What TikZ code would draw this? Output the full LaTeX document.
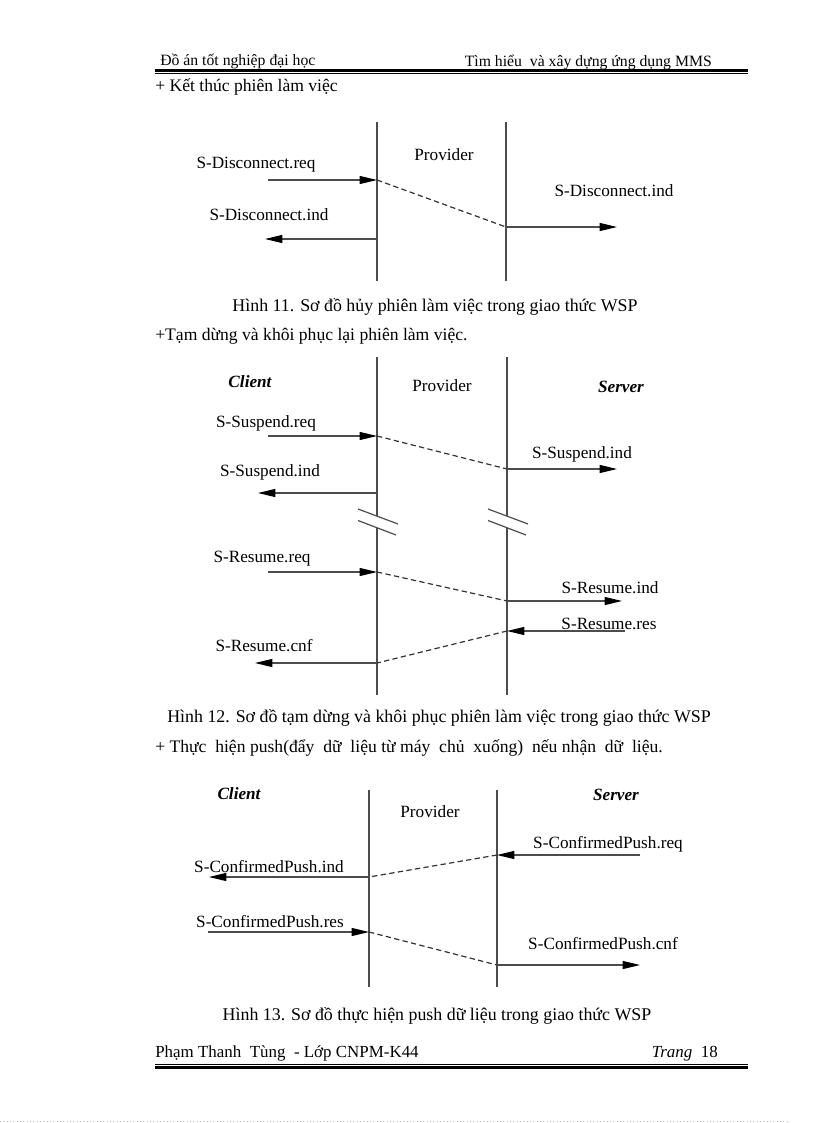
\documentclass[tikz,border=0pt]{standalone}
\usepackage{fontspec}
\setmainfont{Liberation Serif}
\usetikzlibrary{arrows.meta}

\begin{document}
\begin{tikzpicture}[x=0.75pt, y=-0.75pt, font=\fontsize{12.6}{15}\selectfont]
\tikzstyle{life}=[line width=0.9pt, black!70]
\tikzstyle{msg}=[line width=0.9pt, black!70, -{Triangle[length=13pt,width=6pt,color=black]}]
\tikzstyle{relay}=[line width=0.9pt, black!80, dash pattern=on 4pt off 2.5pt]
\tikzstyle{lbl}=[inner sep=0pt, yshift=-1.2pt, font=\fontsize{12.9}{15}\selectfont]
\tikzstyle{party}=[inner sep=0pt, yshift=-1.2pt, font=\fontsize{12.9}{15}\selectfont\bfseries\itshape]
\tikzstyle{para}=[inner sep=0pt, yshift=-1.2pt, anchor=west, font=\fontsize{13.2}{15}\selectfont]
\tikzstyle{figcap}=[inner sep=0pt, yshift=-1.2pt, font=\fontsize{13.4}{15}\selectfont]
\tikzstyle{head}=[inner sep=0pt, yshift=-1.5pt, font=\fontsize{11.8}{15}\selectfont]
\tikzstyle{foot}=[inner sep=0pt, yshift=-1.2pt, font=\fontsize{12.7}{15}\selectfont]
\useasboundingbox (0,0) rectangle (816,1123);

% page header
\node[head, anchor=west] (headl) at (160,60) {Đồ án tốt nghiệp đại học};
\node[head, anchor=east] (headr) at (712,60) {Tìm hiểu \ và xây dựng ứng dụng MMS};
\coordinate (hl0) at (155,70.5); \coordinate (hl1) at (748,70.5);
\coordinate (hm0) at (155,73.5); \coordinate (hm1) at (748,73.5);
\draw[line width=1.7pt] (hl0) -- (hl1);
\draw[line width=0.5pt] (hm0) -- (hm1);

%% Hinh 11
\node[para] (sec1) at (155,85) {+ Kết thúc phiên làm việc};
\coordinate (p1t) at (377,122); \coordinate (p1b) at (377,281);
\coordinate (q1t) at (506,122); \coordinate (q1b) at (506,281);
\draw[life] (p1t) -- (p1b);
\draw[life] (q1t) -- (q1b);
\node[lbl] (prov1) at (444,153) {Provider};
\node[lbl] (discreq) at (256,163) {S-Disconnect.req};
\node[lbl] (discindc) at (269,213) {S-Disconnect.ind};
\node[lbl] (discinds) at (614,189) {S-Disconnect.ind};
\coordinate (a1) at (268,180); \coordinate (a2) at (377,180);
\coordinate (a3) at (506,227); \coordinate (a4) at (617,227);
\coordinate (a5) at (377,239); \coordinate (a6) at (265,239);
\draw[msg] (a1) -- (a2);
\draw[relay] (a2) -- (a3);
\draw[msg] (a3) -- (a4);
\draw[msg] (a5) -- (a6);
\node[figcap] (cap11) at (435,305) {Hình 11. Sơ đồ hủy phiên làm việc trong giao thức WSP};

%% Hinh 12
\node[para] (sec2) at (155,335) {+Tạm dừng và khôi phục lại phiên làm việc.};
\coordinate (p2t) at (377,357); \coordinate (p2u) at (377,516);
\coordinate (p2l) at (377,527.5); \coordinate (p2b) at (377,695);
\coordinate (q2t) at (507,357); \coordinate (q2u) at (507,516);
\coordinate (q2l) at (507,527.5); \coordinate (q2b) at (507,695);
\draw[life] (p2t) -- (p2u);
\draw[life] (p2l) -- (p2b);
\draw[life] (q2t) -- (q2u);
\draw[life] (q2l) -- (q2b);
% break marks
\foreach \x in {377,507}{
  \draw[life] (\x-19,509) -- (\x+21,524);
  \draw[life] (\x-19,520.5) -- (\x+19,535);
}
\node[party] (client2) at (250,380) {Client};
\node[lbl] (prov2) at (442,384) {Provider};
\node[party] (server2) at (621,385) {Server};
\node[lbl] (susreq) at (266,422) {S-Suspend.req};
\node[lbl] (susinds) at (582,453) {S-Suspend.ind};
\node[lbl] (susindc) at (270,471) {S-Suspend.ind};
\node[lbl] (resreq) at (262,557) {S-Resume.req};
\node[lbl] (resind) at (610,586) {S-Resume.ind};
\node[lbl] (resres) at (609,622) {S-Resume.res};
\node[lbl] (rescnf) at (264,644) {S-Resume.cnf};
\coordinate (b1) at (268,436); \coordinate (b2) at (377,436);
\coordinate (b3) at (507,469); \coordinate (b4) at (617,469);
\coordinate (b5) at (377,493); \coordinate (b6) at (258,493);
\coordinate (c1) at (268,572); \coordinate (c2) at (377,572);
\coordinate (c3) at (507,601); \coordinate (c4) at (622,601);
\coordinate (c5) at (625,631); \coordinate (c6) at (507,631);
\coordinate (c7) at (377,663); \coordinate (c8) at (255,663);
\draw[msg] (b1) -- (b2);
\draw[relay] (b2) -- (b3);
\draw[msg] (b3) -- (b4);
\draw[msg] (b5) -- (b6);
\draw[msg] (c1) -- (c2);
\draw[relay] (c2) -- (c3);
\draw[msg] (c3) -- (c4);
\draw[msg] (c5) -- (c6);
\draw[relay] (c6) -- (c7);
\draw[msg] (c7) -- (c8);
\node[figcap] (cap12) at (439,716) {Hình 12. Sơ đồ tạm dừng và khôi phục phiên làm việc trong giao thức WSP};

%% Hinh 13
\node[para] (sec3) at (155,746) {+ Thực \ hiện push(đẩy \ dữ \ liệu từ máy \ chủ \ xuống) \ nếu nhận \ dữ \ liệu.};
\coordinate (p3t) at (369,790); \coordinate (p3b) at (369,987);
\coordinate (q3t) at (497,790); \coordinate (q3b) at (497,987);
\draw[life] (p3t) -- (p3b);
\draw[life] (q3t) -- (q3b);
\node[party] (client3) at (239,792) {Client};
\node[lbl] (prov3) at (430,810) {Provider};
\node[party] (server3) at (616,793) {Server};
\node[lbl] (cpreq) at (608,843) {S-ConfirmedPush.req};
\node[lbl] (cpind) at (269,865) {S-ConfirmedPush.ind};
\node[lbl] (cpres) at (270,920) {S-ConfirmedPush.res};
\node[lbl] (cpcnf) at (603,942) {S-ConfirmedPush.cnf};
\coordinate (d1) at (640,855); \coordinate (d2) at (497,855);
\coordinate (d3) at (369,877); \coordinate (d4) at (209,877);
\coordinate (d5) at (208,932); \coordinate (d6) at (369,932);
\coordinate (d7) at (497,965); \coordinate (d8) at (640,965);
\draw[msg] (d1) -- (d2);
\draw[relay] (d2) -- (d3);
\draw[msg] (d3) -- (d4);
\draw[msg] (d5) -- (d6);
\draw[relay] (d6) -- (d7);
\draw[msg] (d7) -- (d8);
\node[figcap] (cap13) at (437,1014) {Hình 13. Sơ đồ thực hiện push dữ liệu trong giao thức WSP};

% page footer
\node[foot, anchor=west] (footl) at (155,1052) {Phạm Thanh \ Tùng \ - Lớp CNPM-K44};
\node[foot, anchor=east] (footr) at (718,1052) {\textit{Trang} \ 18};
\coordinate (fl0) at (155,1064); \coordinate (fl1) at (748,1064);
\coordinate (fm0) at (155,1067.5); \coordinate (fm1) at (748,1067.5);
\draw[line width=0.5pt] (fl0) -- (fl1);
\draw[line width=1.7pt] (fm0) -- (fm1);
\coordinate (e0) at (0,1121); \coordinate (e1) at (790,1121);
\draw[black!25, line width=0.5pt, dotted] (e0) -- (e1);
\end{tikzpicture}
\end{document}
